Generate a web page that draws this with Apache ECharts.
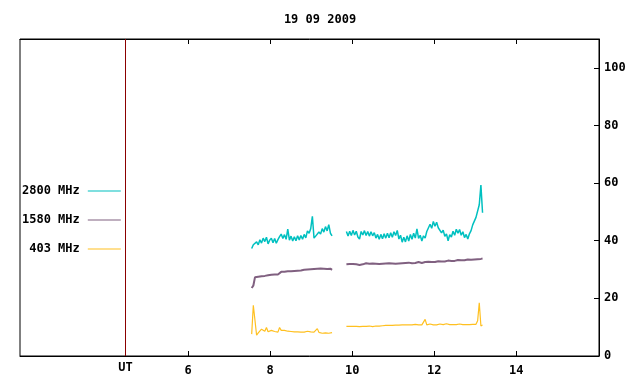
<!DOCTYPE html>
<html>
<head>
<meta charset="utf-8">
<script src="https://cdn.jsdelivr.net/npm/echarts@6/dist/echarts.min.js"></script>
<style>
  html, body { margin: 0; padding: 0; background: #fff; }
  #chart { width: 640px; height: 384px; }
</style>
</head>
<body>
<div id="chart"></div>
<script>
// observing day and axis ticks
const title = '19 09 2009'
const hourTicks = [6, 8, 10, 12, 14]
const fluxTicks = [0, 20, 40, 60, 80, 100]
const utHour = 4.47

// two recording intervals, samples every 0.04 h
const step = 0.04
const start1 = 7.55
const start2 = 9.86

const names = ['2800 MHz', '1580 MHz', '403 MHz']
const colors = ['#00c0c0', '#806080', '#ffc020']
const widths = [1.5, 2, 1.2]

const f2800a = [37.3, 38.6, 38.2, 39.6, 38.6, 40.3, 39.2, 40.9, 39.7, 41.2,
  38.9, 40.2, 40.9, 39.3, 40.8, 39.1, 40.4, 41.4, 42.3, 40.8,
  42.1, 40.5, 44.0, 40.2, 41.6, 39.9, 41.4, 40.0, 41.7, 40.3,
  41.8, 40.5, 42.2, 41.0, 43.4, 42.6, 44.2, 48.5, 40.9, 41.6,
  41.7, 43.0, 42.3, 44.2, 43.0, 44.9, 43.4, 45.6, 42.6, 41.7]
const f2800b = [43.2, 41.6, 43.3, 41.8, 43.6, 42.0, 43.3, 41.3, 40.6, 43.2,
  42.0, 43.5, 41.8, 43.2, 41.6, 43.1, 41.7, 42.8, 40.9, 42.2,
  40.5, 42.2, 40.7, 42.4, 40.9, 42.6, 41.0, 42.8, 41.2, 43.1,
  41.8, 43.6, 40.6, 41.9, 39.5, 41.2, 39.6, 41.7, 39.9, 42.2,
  40.5, 42.6, 40.9, 44.1, 40.8, 41.9, 39.9, 41.7, 40.9, 43.2,
  43.2, 45.7, 44.3, 46.7, 45.0, 46.4, 44.5, 44.9, 42.7, 43.7,
  41.5, 42.4, 40.0, 42.1, 41.3, 43.3, 41.9, 44.0, 42.6, 43.9,
  41.9, 43.1, 41.1, 42.2, 40.6, 42.4, 43.5, 45.5, 45.7, 48.1,
  48.3, 52.5, 59.3, 49.7]

const f1580a = [23.6, 24.4, 27.3, 27.8, 27.5, 27.9, 27.7, 28.0, 27.8, 28.1,
  28.0, 28.2, 28.2, 28.2, 28.3, 28.2, 28.3, 28.3, 29.2, 29.5,
  29.2, 29.5, 29.4, 29.6, 29.4, 29.7, 29.5, 29.8, 29.6, 29.9,
  29.7, 29.8, 29.9, 29.7, 30.0, 29.9, 30.1, 29.9, 30.2, 30.0,
  30.3, 30.1, 30.4, 30.2, 30.3, 30.5, 30.2, 30.4, 30.3, 29.9]
const f1580b = [31.8, 31.6, 31.9, 31.7, 31.9, 31.5, 31.8, 31.9, 31.6, 32.0,
  31.8, 31.9, 32.2, 31.8, 32.0, 31.9, 32.1, 31.8, 32.0, 32.1,
  31.9, 32.3, 32.0, 31.9, 32.1, 32.0, 32.2, 31.9, 32.1, 32.2,
  32.0, 32.3, 32.1, 32.4, 32.2, 32.1, 32.3, 32.2, 32.4, 32.3,
  32.2, 32.5, 32.3, 32.3, 32.6, 32.4, 32.3, 32.5, 32.6, 32.4,
  32.7, 32.5, 32.6, 32.8, 32.6, 32.7, 32.9, 32.7, 32.8, 33.0,
  32.8, 32.9, 33.1, 32.9, 33.0, 33.2, 33.0, 33.1, 33.3, 33.1,
  33.2, 33.4, 33.2, 33.3, 33.5, 33.3, 33.4, 33.3, 33.5, 33.4,
  33.6, 33.5, 33.7, 33.8]

const f403a = [7.6, 17.6, 12.4, 7.2, 8.0, 8.4, 9.3, 8.7, 8.6, 9.9,
  8.4, 8.5, 8.9, 8.9, 8.5, 8.4, 8.3, 9.9, 8.9, 9.0,
  8.9, 8.9, 8.6, 8.5, 8.5, 8.4, 8.4, 8.3, 8.4, 8.3,
  8.3, 8.4, 8.3, 8.3, 8.6, 8.6, 8.4, 8.3, 8.3, 8.3,
  9.5, 8.2, 8.0, 7.9, 7.9, 8.0, 7.9, 7.9, 8.1, 8.1]
const f403b = [10.3, 10.1, 10.3, 10.2, 10.3, 10.2, 10.3, 10.3, 10.2, 10.3,
  10.3, 10.2, 10.3, 10.3, 10.4, 10.3, 10.2, 10.4, 10.4, 10.4,
  10.4, 10.5, 10.5, 10.5, 10.6, 10.6, 10.6, 10.6, 10.6, 10.7,
  10.7, 10.7, 10.7, 10.7, 10.8, 10.8, 10.8, 10.8, 10.8, 10.8,
  10.8, 10.8, 11.0, 10.8, 10.8, 11.0, 10.8, 10.8, 12.7, 10.8,
  10.8, 11.1, 10.8, 10.8, 11.1, 10.8, 10.9, 11.1, 10.8, 10.9,
  10.9, 11.2, 10.9, 10.9, 11.3, 10.9, 10.8, 10.9, 10.9, 11.1,
  10.9, 10.9, 11.0, 10.9, 11.0, 10.9, 11.0, 11.0, 11.1, 11.0,
  12.2, 18.5, 10.4, 10.8]

const font = "'DejaVu Sans Mono', monospace"

// join both intervals with a break between them
const toPairs = (a, b) => [
  ...a.map((v, i) => [+(start1 + i * step).toFixed(2), v]),
  ['-', '-'],
  ...b.map((v, i) => [+(start2 + i * step).toFixed(2), v])
]
const seriesData = [toPairs(f2800a, f2800b), toPairs(f1580a, f1580b), toPairs(f403a, f403b)]

const chart = echarts.init(document.getElementById('chart'))

const option = {
  animation: false,
  textStyle: { fontFamily: font },
  title: {
    text: title,
    left: 'center',
    top: 9,
    textStyle: { fontFamily: font, fontSize: 12, fontWeight: 'bold', color: '#000' }
  },
  grid: {
    left: 20, right: 41, top: 39, bottom: 28,
    show: true, borderColor: '#000', borderWidth: 1
  },
  legend: {
    data: names,
    orient: 'vertical',
    left: 22,
    top: 185,
    padding: 0,
    align: 'right',
    icon: 'rect',
    itemWidth: 33,
    itemHeight: 1,
    itemGap: 17,
    textStyle: { fontFamily: font, fontSize: 12, fontWeight: 'bold', color: '#000', width: 58, align: 'right', padding: [0, 3, 0, 0] }
  },
  xAxis: [{
    type: 'value',
    position: 'bottom',
    min: 1.9, max: 16.02,
    axisLine: { lineStyle: { color: '#000' } },
    axisTick: { inside: true, length: 5, customValues: hourTicks, lineStyle: { color: '#000' } },
    axisLabel: { customValues: hourTicks, margin: 9, color: '#000', fontFamily: font, fontSize: 12, fontWeight: 'bold' },
    splitLine: { show: false }
  }, {
    type: 'value',
    position: 'top',
    min: 1.9, max: 16.02,
    axisLine: { lineStyle: { color: '#000' } },
    axisTick: { inside: true, length: 5, customValues: hourTicks, lineStyle: { color: '#000' } },
    axisLabel: { show: false },
    splitLine: { show: false }
  }],
  yAxis: {
    type: 'value',
    position: 'right',
    min: 0, max: 110,
    axisLine: { show: true, lineStyle: { color: '#000' } },
    axisTick: { show: true, inside: true, length: 5, customValues: fluxTicks, lineStyle: { color: '#000' } },
    axisLabel: { customValues: fluxTicks, margin: 5, color: '#000', fontFamily: font, fontSize: 12, fontWeight: 'bold' },
    splitLine: { show: false }
  },
  series: names.map((name, k) => ({
    name,
    type: 'line',
    data: seriesData[k],
    symbol: 'none',
    color: colors[k],
    lineStyle: { width: widths[k] },
    connectNulls: false,
    markLine: k === 0 ? {
      silent: true,
      symbol: ['none', 'none'],
      label: { show: false },
      lineStyle: { color: '#8b0000', type: 'solid', width: 1 },
      data: [{ xAxis: utHour }]
    } : undefined
  }))
}

chart.setOption(option)

// "UT" sits under the time marker line
const utX = chart.convertToPixel({ xAxisIndex: 0 }, utHour)
const baseY = chart.convertToPixel({ yAxisIndex: 0 }, 0)
chart.setOption({
  graphic: [{
    type: 'text',
    x: utX,
    y: baseY + 12,
    style: { text: 'UT', fontFamily: font, fontSize: 12, fontWeight: 'bold', fill: '#000', align: 'center', verticalAlign: 'middle' }
  }]
})
</script>
</body>
</html>
